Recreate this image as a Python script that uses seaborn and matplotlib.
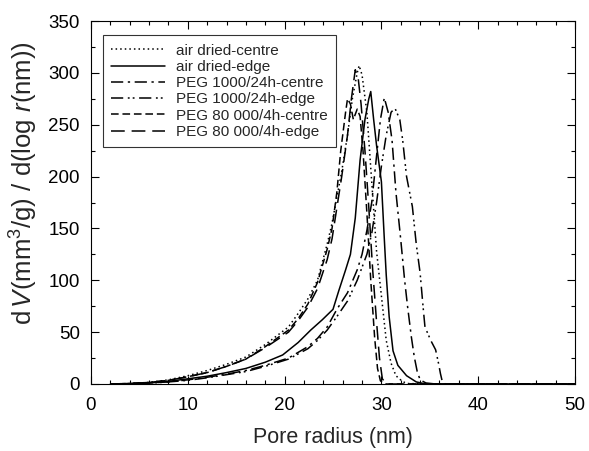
import matplotlib
matplotlib.use("Agg")
import matplotlib.pyplot as plt
import seaborn as sns
import pandas as pd
from matplotlib.ticker import MultipleLocator

sns.set_theme(style="ticks")
plt.rcParams['font.family'] = ['Liberation Sans', 'DejaVu Sans']
plt.rcParams['mathtext.fontset'] = 'custom'
plt.rcParams['mathtext.rm'] = 'Liberation Sans'
plt.rcParams['mathtext.it'] = 'Liberation Sans:italic'

labels = ["air dried-centre", "air dried-edge", "PEG 1000/24h-centre",
          "PEG 1000/24h-edge", "PEG 80 000/4h-centre", "PEG 80 000/4h-edge"]

x_air_centre = [2, 4, 6, 8, 10, 12, 14, 16, 18, 20.4, 21.4, 22.4, 23.4, 24.4, 24.9, 25.4, 25.9, 26.5, 27.0,
                27.5, 27.7, 28.0, 28.5, 29.0, 29.5, 30.0, 30.5, 31.0, 31.5, 32.1, 32.6, 34.6, 40.7, 50]
y_air_centre = [0, 0.5, 1.5, 4, 8, 13, 19, 26, 38, 55, 68, 82, 100, 135, 155, 180, 205, 240, 275, 300, 307,
                298, 262, 195, 128, 85, 42, 20, 8, 3, 0.5, 0, 0, 0]

x_air_edge = [2, 4, 6, 8, 10, 12, 14, 16, 18, 19.8, 21.4, 22.7, 23.9, 25.0, 25.6, 26.3, 26.8, 27.3, 27.8,
              28.3, 28.7, 28.9, 29.2, 29.5, 30.0, 30.3, 30.5, 30.8, 31.2, 31.7, 32.6, 33.6, 34.6, 40, 50]
y_air_edge = [0, 0.3, 1, 2.5, 5, 7.5, 11, 15, 21, 28, 40, 52, 62, 72, 90, 110, 125, 160, 216,
              255, 275, 282, 255, 230, 195, 140, 105, 65, 32, 18, 8, 2, 0, 0, 0]

x_peg1000_centre = [2, 4, 6, 8, 10, 12, 14, 16, 18, 20.4, 22.4, 23.4, 24.4, 25.4, 26.5, 27.5, 28.0, 28.5,
                    29.0, 29.5, 29.9, 30.3, 30.7, 31.1, 31.5, 32.0, 32.4, 32.7, 33.1, 33.4, 33.7, 34.0,
                    34.6, 35.6, 40, 50]
y_peg1000_centre = [0, 0.3, 1, 2, 4, 6.5, 9.5, 13, 18, 25, 36, 44, 55, 72, 88, 110, 125, 148, 175, 220, 255,
                    276, 262, 235, 185, 139, 100, 75, 45, 26, 12, 4, 1, 0, 0, 0]

x_peg1000_edge = [2, 4, 6, 8, 10, 12, 14, 16, 18, 20.4, 22.4, 23.4, 24.4, 25.4, 26.5, 27.5, 28.5, 29.0,
                  29.5, 30.0, 30.5, 31.0, 31.4, 31.9, 32.2, 32.6, 33.2, 33.6, 34.0, 34.3, 34.5, 35.1,
                  35.6, 35.9, 36.1, 36.3, 36.6, 40, 50]
y_peg1000_edge = [0, 0.2, 0.8, 2, 3.5, 6, 9, 12, 17, 24, 34, 42, 52, 65, 80, 100, 125, 145, 175, 210, 240,
                  262, 266, 255, 235, 200, 171, 135, 107, 75, 55, 42, 33, 20, 10, 2, 0, 0, 0]

x_peg80000_centre = [2, 4, 6, 8, 10, 12, 14, 16, 18, 20.4, 21.4, 22.4, 23.4, 24.4, 24.9, 25.4, 25.8, 26.3,
                     26.5, 26.8, 27.1, 27.5, 27.8, 28.1, 28.5, 28.9, 29.3, 29.6, 29.9, 30.5, 40, 50]
y_peg80000_centre = [0, 0.5, 1.5, 3.5, 7, 11, 17, 24, 36, 52, 63, 77, 98, 130, 150, 185, 225, 262, 275, 270,
                     255, 265, 258, 225, 165, 100, 45, 15, 3, 0, 0, 0]

x_peg80000_edge = [2, 4, 6, 8, 10, 12, 14, 16, 18, 20.4, 21.4, 22.4, 23.4, 24.4, 24.9, 25.4, 25.9, 26.5,
                   26.9, 27.3, 27.6, 27.9, 28.3, 28.7, 29.1, 29.5, 29.8, 30.1, 30.5, 40, 50]
y_peg80000_edge = [0, 0.5, 1.5, 3.5, 7, 11, 17, 24, 35, 50, 61, 74, 92, 120, 140, 170, 200, 240, 275, 303,
                   295, 270, 225, 170, 110, 60, 25, 5, 0, 0, 0]

xs = [x_air_centre, x_air_edge, x_peg1000_centre, x_peg1000_edge, x_peg80000_centre, x_peg80000_edge]
ys = [y_air_centre, y_air_edge, y_peg1000_centre, y_peg1000_edge, y_peg80000_centre, y_peg80000_edge]
styles = [(0, (1, 2)), '-', (0, (8, 3, 1.5, 3)), (0, (8, 3, 1.2, 2, 1.2, 3)),
          (0, (5, 2.5)), (0, (9, 4.5))]

fig = plt.figure(figsize=(5.89, 4.51), dpi=100)
ax = fig.add_axes([91 / 589, 67 / 451, 484 / 589, 363 / 451])

for lab, xv, yv, ls in zip(labels, xs, ys, styles):
    df = pd.DataFrame({"x": xv, "y": yv})
    sns.lineplot(data=df, x="x", y="y", ax=ax, color="black", linewidth=1.1,
                 linestyle=ls, label=lab, sort=False, estimator=None)

ax.set_xlim(0, 50)
ax.set_ylim(0, 350)
ax.xaxis.set_major_locator(MultipleLocator(10))
ax.xaxis.set_minor_locator(MultipleLocator(2))
ax.yaxis.set_major_locator(MultipleLocator(50))
ax.yaxis.set_minor_locator(MultipleLocator(25))
ax.tick_params(which='both', direction='in', top=True, right=True, colors='black',
               labelsize=13.5, width=0.8)
ax.tick_params(which='major', length=6)
ax.tick_params(axis='x', which='major', pad=9)
ax.tick_params(axis='y', which='major', pad=8)
ax.tick_params(which='minor', length=3)
for s in ax.spines.values():
    s.set_color('black')
    s.set_linewidth(0.8)

ax.set_xlabel("Pore radius (nm)", fontsize=15.5, labelpad=10)
ax.set_ylabel(r"d$\,\mathit{V}$(mm$^3$/g) / d(log $\mathit{r}$(nm))", fontsize=18.5)
ax.yaxis.set_label_coords(-0.105, 0.555)

leg = ax.legend(loc='upper left', bbox_to_anchor=(0.0248, 0.961), fontsize=11, handlelength=3.5,
                frameon=True, fancybox=False, edgecolor='black', borderpad=0.55,
                labelspacing=0.15, handletextpad=0.7, borderaxespad=0)
leg.get_frame().set_linewidth(0.8)

fig.savefig("out.png", dpi=100)
